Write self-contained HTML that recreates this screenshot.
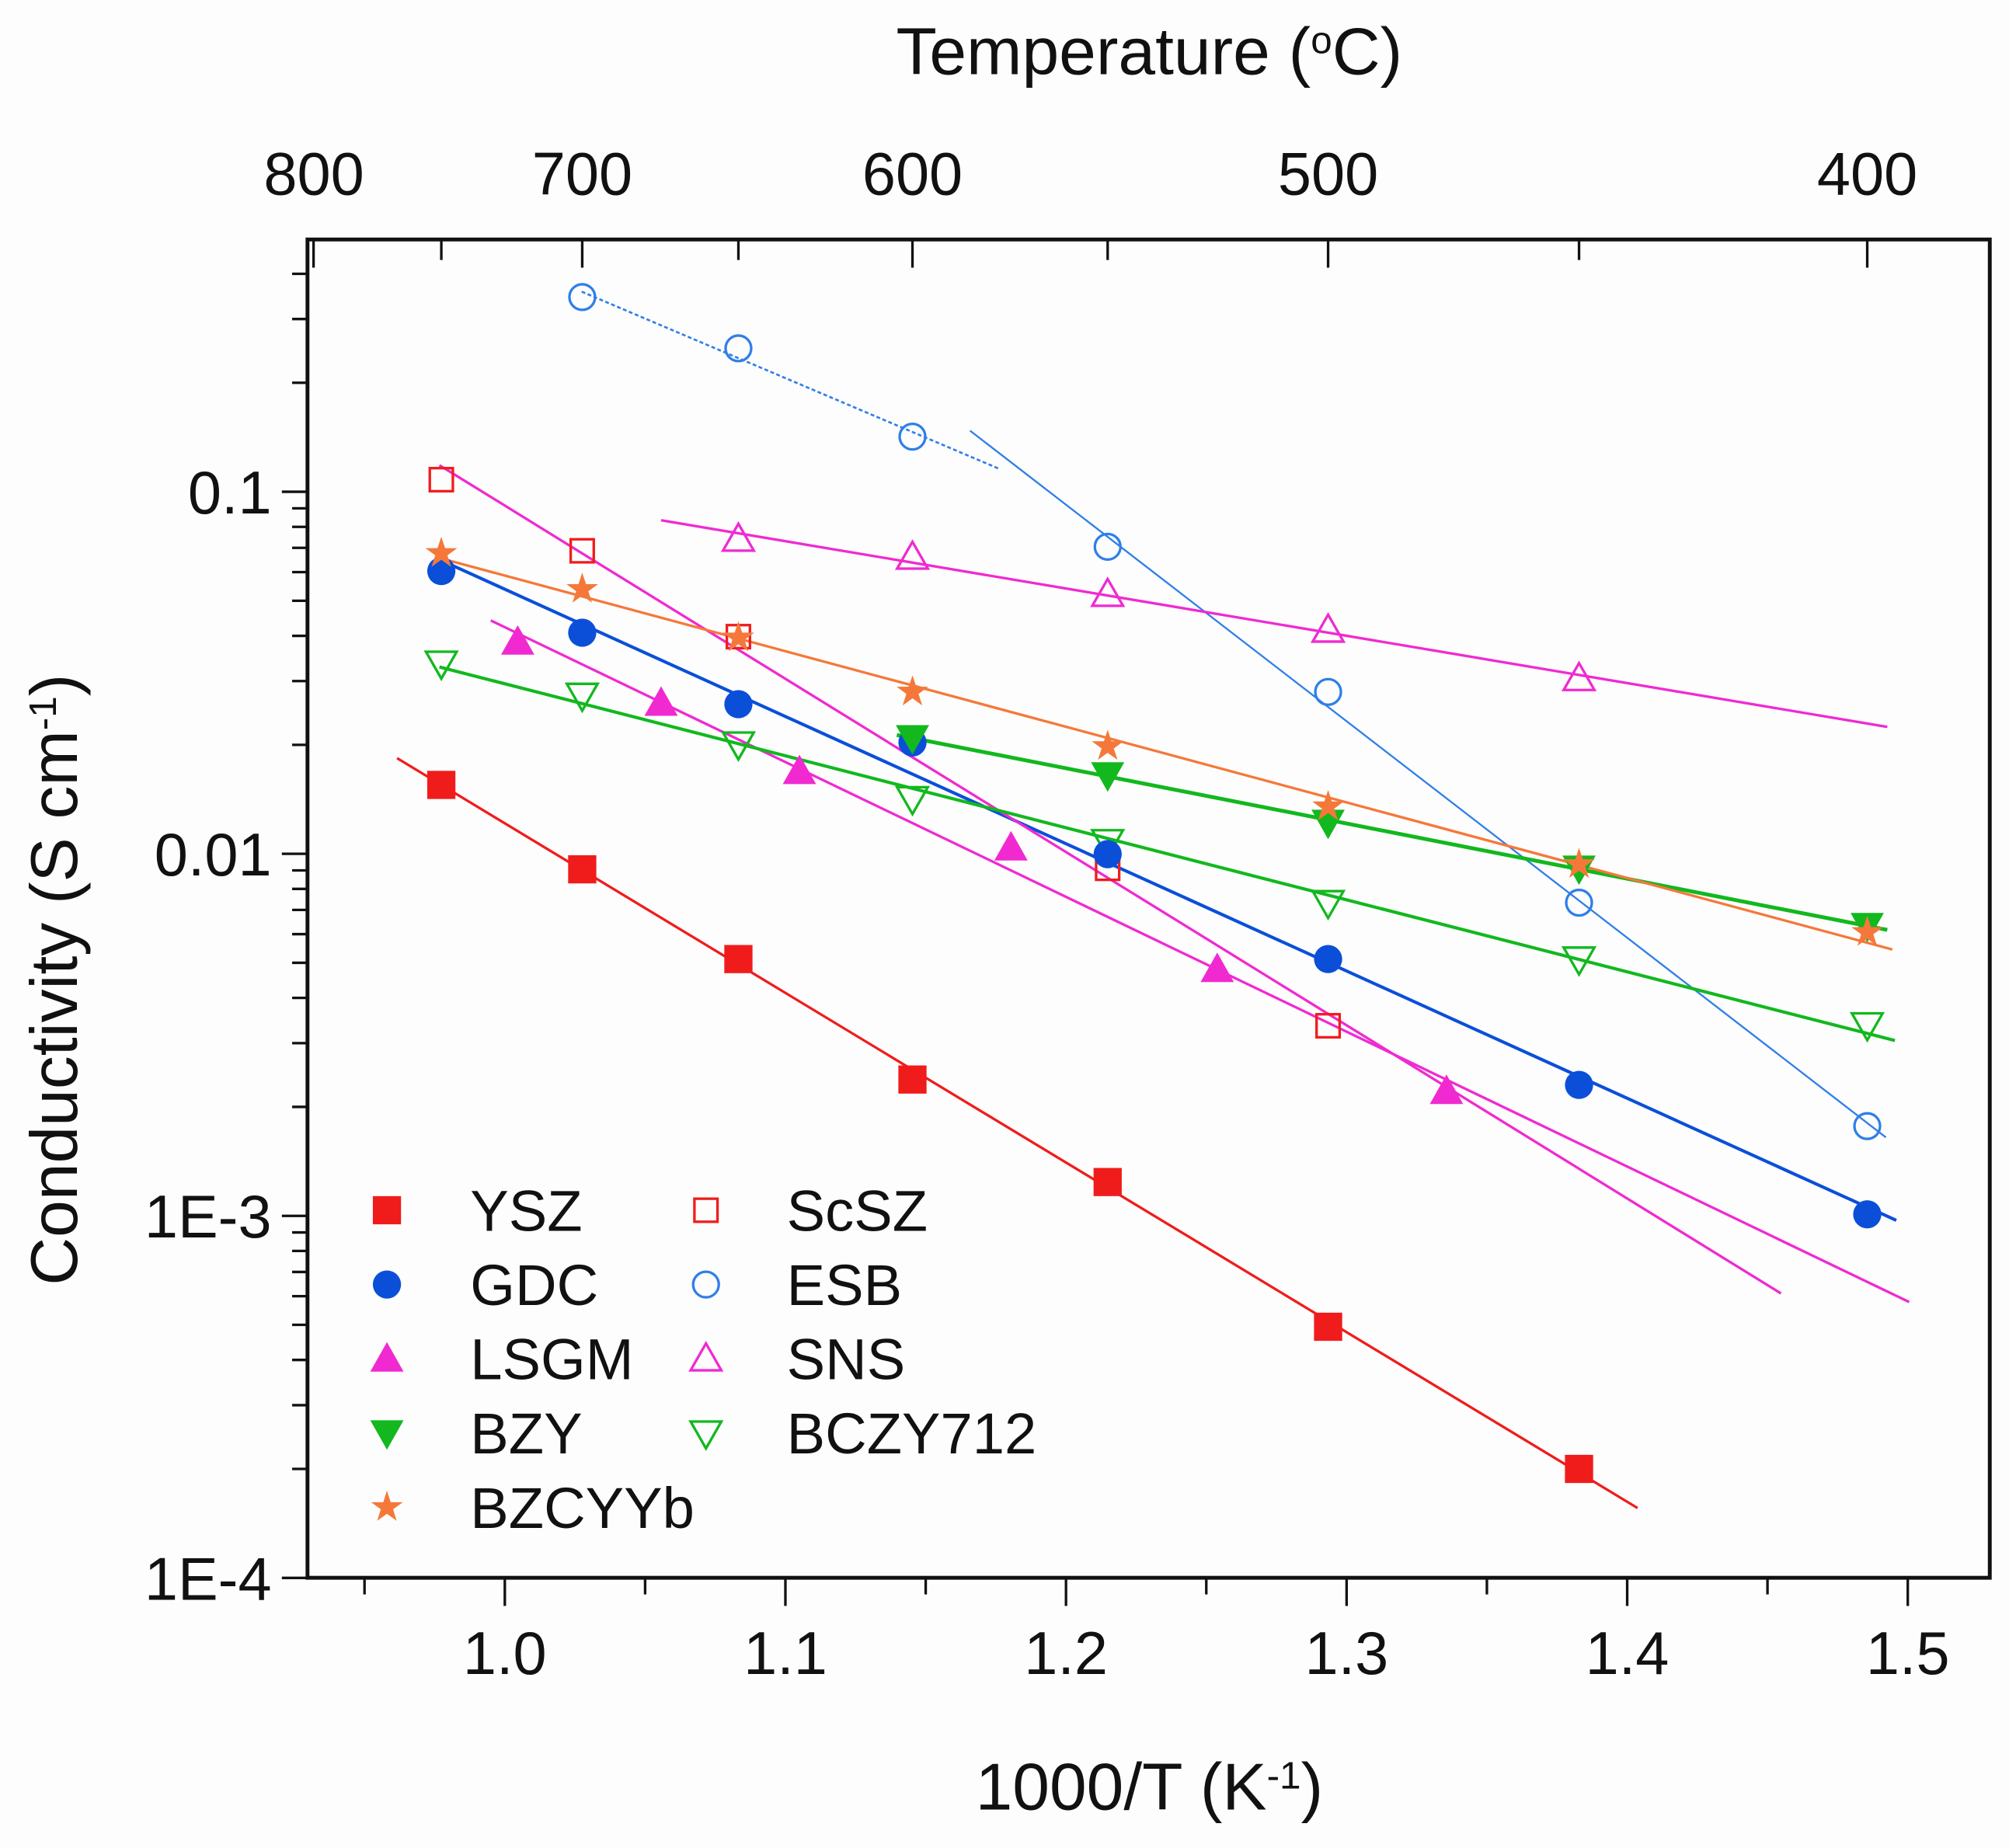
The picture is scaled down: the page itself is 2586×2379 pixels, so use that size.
<!DOCTYPE html>
<html><head><meta charset="utf-8">
<style>
html,body{margin:0;padding:0;background:#fdfdfd;}
svg{display:block;}
text{font-family:"Liberation Sans",Arial,sans-serif;fill:#111;}
</style></head>
<body>
<svg id="chart" width="2586" height="2379" viewBox="0 0 1568 1443" preserveAspectRatio="none" xmlns="http://www.w3.org/2000/svg">
<rect x="0" y="0" width="1568" height="1443" fill="#fdfdfd"/>
<g id="marks"></g>
<g id="axes"></g>
<g id="legend"></g>
</svg>
<script>
// ---- data ----
const tempGrid = [750, 700, 650, 600, 550, 500, 450, 400];
const yszTemps = [750, 700, 650, 600, 550, 500, 450];
const yszValues = [0.0155, 0.00906, 0.00512, 0.00238, 0.00124, 0.000494, 0.000200];
const gdcTemps = [750, 700, 650, 600, 550, 500, 450, 400];
const gdcValues = [0.0604, 0.0408, 0.0259, 0.0203, 0.00998, 0.00512, 0.0023, 0.00101];
const lsgmX = [1.0046, 1.0557, 1.105, 1.1804, 1.2539, 1.3356];
const lsgmValues = [0.0385, 0.0261, 0.0169, 0.0104, 0.0048, 0.00221];
const scszTemps = [750, 700, 650, 550, 500];
const scszValues = [0.108, 0.0687, 0.0398, 0.00912, 0.00335];
const esbTemps = [700, 650, 600, 550, 500, 450, 400];
const esbValues = [0.345, 0.249, 0.142, 0.0705, 0.028, 0.00733, 0.00177];
const snsTemps = [650, 600, 550, 500, 450];
const snsValues = [0.074, 0.066, 0.0521, 0.0415, 0.0305];
const bzyTemps = [600, 550, 500, 450, 400];
const bzyValues = [0.0209, 0.0165, 0.0122, 0.00912, 0.00633];
const bzcyybTemps = [750, 700, 650, 600, 550, 500, 450, 400];
const bzcyybValues = [0.0676, 0.0538, 0.0395, 0.028, 0.0198, 0.0135, 0.00935, 0.00607];
const bczyTemps = [750, 700, 650, 600, 550, 500, 450, 400];
const bczyValues = [0.0336, 0.0274, 0.0201, 0.0142, 0.0108, 0.00733, 0.00512, 0.00337];
const xTicks = [1.0, 1.1, 1.2, 1.3, 1.4, 1.5];
const xTickLabels = ["1.0", "1.1", "1.2", "1.3", "1.4", "1.5"];
const yTicks = [0.1, 0.01, 0.001, 0.0001];
const yTickLabels = ["0.1", "0.01", "1E-3", "1E-4"];
const topTicks = [800, 700, 600, 500, 400];
const topMinor = [750, 650, 550, 450];

// ---- axes functions ----
const PL = 240, PR = 1553, PT = 187, PB = 1232;
function xs(v){ return 394 + (v - 1.0) * 2190; }
function ys(v){ return 384 - (Math.log10(v) + 1) * 282.7; }
function inv(t){ return 1000 / (t + 273.15); }

const NS = "http://www.w3.org/2000/svg";
function mk(tag, attrs, parent){
  const e = document.createElementNS(NS, tag);
  for (const k in attrs) e.setAttribute(k, attrs[k]);
  parent.appendChild(e);
  return e;
}
const marks = document.getElementById('marks');
const axes = document.getElementById('axes');
const legend = document.getElementById('legend');

function fit(xv, yv){
  const n = xv.length; let sx=0, sy=0, sxx=0, sxy=0;
  for (let i=0;i<n;i++){ const l=Math.log10(yv[i]); sx+=xv[i]; sy+=l; sxx+=xv[i]*xv[i]; sxy+=xv[i]*l; }
  const b = (n*sxy - sx*sy)/(n*sxx - sx*sx); const a = (sy - b*sx)/n;
  return x => Math.pow(10, a + b*x);
}
function fitLine(xv, yv, x0, x1, color, name, dash, w){
  const f = fit(xv, yv);
  const l = mk('line', {x1:xs(x0), y1:ys(f(x0)), x2:xs(x1), y2:ys(f(x1)), stroke:color, 'stroke-width':w||2}, marks);
  if (dash) l.setAttribute('stroke-dasharray', dash);
  
  
}
function marker(type, cx, cy, color, parent){
  let e;
  const s = 11;
  if (type==='sq') e = mk('rect',{x:cx-s,y:cy-s,width:2*s,height:2*s,fill:color},parent);
  else if (type==='osq') e = mk('rect',{x:cx-9,y:cy-9,width:18,height:18,fill:'none',stroke:color,'stroke-width':2},parent);
  else if (type==='ci') e = mk('circle',{cx:cx,cy:cy,r:11,fill:color},parent);
  else if (type==='oci') e = mk('circle',{cx:cx,cy:cy,r:10,fill:'none',stroke:color,'stroke-width':2},parent);
  else if (type==='tri') e = mk('polygon',{points:`${cx},${cy-13} ${cx+13},${cy+10} ${cx-13},${cy+10}`,fill:color},parent);
  else if (type==='otri') e = mk('polygon',{points:`${cx},${cy-12} ${cx+12},${cy+9} ${cx-12},${cy+9}`,fill:'none',stroke:color,'stroke-width':2},parent);
  else if (type==='dtri') e = mk('polygon',{points:`${cx},${cy+13} ${cx+13},${cy-10} ${cx-13},${cy-10}`,fill:color},parent);
  else if (type==='odtri') e = mk('polygon',{points:`${cx},${cy+12} ${cx+12},${cy-9} ${cx-12},${cy-9}`,fill:'none',stroke:color,'stroke-width':2},parent);
  else if (type==='star'){
    let p=[]; for(let i=0;i<10;i++){const r=i%2?5:13; const a=-Math.PI/2+i*Math.PI/5; p.push((cx+r*Math.cos(a)).toFixed(1)+','+(cy+r*Math.sin(a)).toFixed(1));}
    e = mk('polygon',{points:p.join(' '),fill:color},parent);
  }
  return e;
}
function series(xv, yv, type, color, name){
  for (let i=0;i<xv.length;i++){
    const e = marker(type, xs(xv[i]), ys(yv[i]), color, marks);
    
    
  }
}

const RED='#f01c1c', BLUE='#0b4fd9', MAG='#f02ad0', GREEN='#12b81e', ORANGE='#f5783a', LBLUE='#2f7fe8';
const yszX = yszTemps.map(inv), gdcX = gdcTemps.map(inv), scszX = scszTemps.map(inv), esbX = esbTemps.map(inv);
const snsX = snsTemps.map(inv), bzyX = bzyTemps.map(inv), bzcyybX = bzcyybTemps.map(inv), bczyX = bczyTemps.map(inv);

fitLine(yszX, yszValues, 0.9616, 1.4037, RED, 'ysz-fit-line');
fitLine(gdcX, gdcValues, 0.9767, 1.4959, BLUE, 'gdc-fit-line', null, 2.5);
fitLine(lsgmX, lsgmValues, 0.995, 1.5005, MAG, 'lsgm-fit-line');
fitLine(scszX, scszValues, 0.9767, 1.4548, MAG, 'scsz-fit-line');
fitLine(esbX.slice(0,3), esbValues.slice(0,3), 1.0274, 1.1763, LBLUE, 'esb-fit-line-high', '3,2', 1.6);
fitLine(esbX.slice(3), esbValues.slice(3), 1.1658, 1.4922, LBLUE, 'esb-fit-line-low', null, 1.4);
fitLine(snsX, snsValues, 1.0557, 1.4927, MAG, 'sns-fit-line');
fitLine(bzyX, bzyValues, 1.1397, 1.4927, GREEN, 'bzy-fit-line', null, 3);
fitLine(bzcyybX, bzcyybValues, 0.9767, 1.4945, ORANGE, 'bzcyyb-fit-line');
fitLine(bczyX, bczyValues, 0.9767, 1.4954, GREEN, 'bczy712-fit-line', null, 2.5);

series(yszX, yszValues, 'sq', RED, 'ysz');
series(scszX, scszValues, 'osq', RED, 'scsz');
series(esbX, esbValues, 'oci', LBLUE, 'esb');
series(snsX, snsValues, 'otri', MAG, 'sns');
series(bczyX, bczyValues, 'odtri', GREEN, 'bczy712');
series(gdcX, gdcValues, 'ci', BLUE, 'gdc');
series(lsgmX, lsgmValues, 'tri', MAG, 'lsgm');
series(bzyX, bzyValues, 'dtri', GREEN, 'bzy');
series(bzcyybX, bzcyybValues, 'star', ORANGE, 'bzcyyb');

// ---- axes ----
const frame = mk('rect',{x:PL,y:PT,width:PR-PL,height:PB-PT,fill:'none',stroke:'#111','stroke-width':3},axes);


for (let i=0;i<xTicks.length;i++){
  const x = xs(xTicks[i]);
  mk('line',{x1:x,y1:PB,x2:x,y2:PB+22,stroke:'#111','stroke-width':2},axes);
  const t = mk('text',{x:x,y:1307,'font-size':47,'text-anchor':'middle'},axes);
  t.textContent = xTickLabels[i];
  
  
}
for (let v=0.95; v<1.53; v+=0.1){
  const x = xs(v);
  mk('line',{x1:x,y1:PB,x2:x,y2:PB+13,stroke:'#111','stroke-width':2},axes);
}
for (let i=0;i<yTicks.length;i++){
  const y = ys(yTicks[i]);
  mk('line',{x1:PL-20,y1:y,x2:PL,y2:y,stroke:'#111','stroke-width':2},axes);
  const t = mk('text',{x:PL-28,y:y+17,'font-size':47,'text-anchor':'end'},axes);
  t.textContent = yTickLabels[i];
  
  
}
for (let d=-4; d<0; d++){
  for (let m=2;m<10;m++){
    const y = ys(m*Math.pow(10,d));
    if (y < PT) continue;
    mk('line',{x1:PL-12,y1:y,x2:PL,y2:y,stroke:'#111','stroke-width':2},axes);
  }
}
for (let i=0;i<topTicks.length;i++){
  const x = xs(inv(topTicks[i]));
  if (x > PL+2) mk('line',{x1:x,y1:PT,x2:x,y2:PT+22,stroke:'#111','stroke-width':2},axes);
  const t = mk('text',{x:Math.max(x,245),y:152,'font-size':47,'text-anchor':'middle'},axes);
  t.textContent = String(topTicks[i]);
  
  
}
for (const tm of topMinor){
  const x = xs(inv(tm));
  mk('line',{x1:x,y1:PT,x2:x,y2:PT+16,stroke:'#111','stroke-width':2},axes);
}
</script>
<script>
// ---- titles and legend ----
(function(){
  const NS="http://www.w3.org/2000/svg";
  const svg=document.getElementById('chart');
  const axes=document.getElementById('axes');
  function txt(x,y,size,str,name,extra){
    const t=document.createElementNS(NS,'text');
    t.setAttribute('x',x);t.setAttribute('y',y);t.setAttribute('font-size',size);
    if(extra) for(const k in extra) t.setAttribute(k,extra[k]);
    t.innerHTML=str;
    
    
    axes.appendChild(t);return t;
  }
  txt(897,58,52,'Temperature (<tspan baseline-shift="super" font-size="30">o</tspan>C)','top-axis-title',{'text-anchor':'middle'});
  txt(897,1413,52,'1000/T (K<tspan baseline-shift="super" font-size="30">-1</tspan>)','x-axis-title',{'text-anchor':'middle'});
  txt(60,765,52,'Conductivity (S cm<tspan baseline-shift="super" font-size="30">-1</tspan>)','y-axis-title',{'text-anchor':'middle',transform:'rotate(-90 60 765)'});
})();
</script>
<script>
(function(){
  const legendNames = ["YSZ","GDC","LSGM","BZY","BZCYYb","ScSZ","ESB","SNS","BCZY712"];
  const legendTypes = ['sq','ci','tri','dtri','star','osq','oci','otri','odtri'];
  const legendColors = ['#f01c1c','#0b4fd9','#f02ad0','#12b81e','#f5783a','#f01c1c','#2f7fe8','#f02ad0','#12b81e'];
  const lg = document.getElementById('legend');
  for (let i=0;i<legendNames.length;i++){
    const col = i<5?0:1, row = i<5?i:i-5;
    const mx = col?551:302, tx = col?614:367, y = 945 + row*58;
    const g = document.createElementNS("http://www.w3.org/2000/svg",'g');
    
    
    lg.appendChild(g);
    marker(legendTypes[i], mx, y, legendColors[i], g);
    const t = document.createElementNS("http://www.w3.org/2000/svg",'text');
    t.setAttribute('x',tx);t.setAttribute('y',y+16);t.setAttribute('font-size',45);
    t.textContent = legendNames[i];
    
    
    g.appendChild(t);
  }
})();
</script>
</body></html>
